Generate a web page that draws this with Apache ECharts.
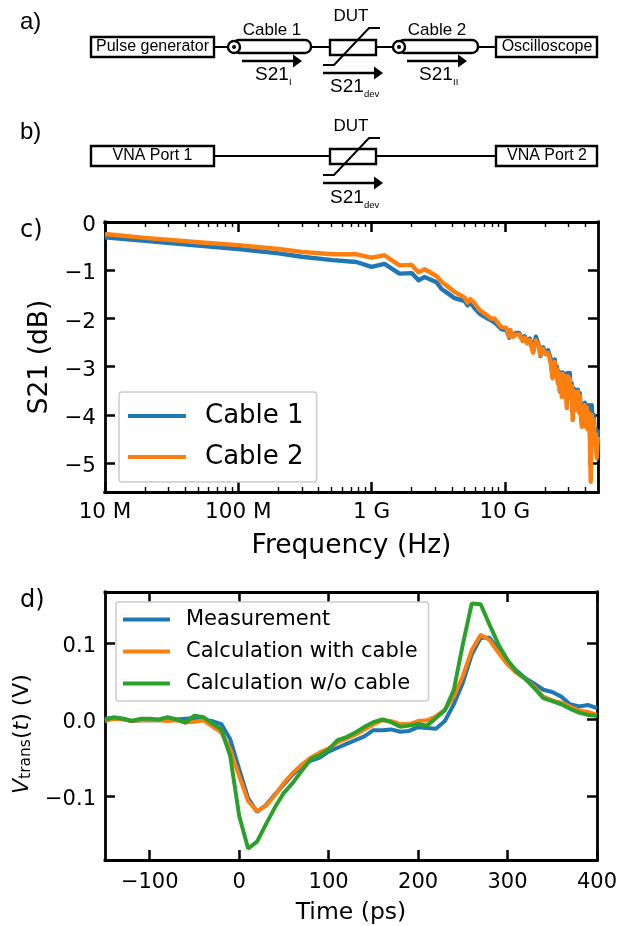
<!DOCTYPE html>
<html><head><meta charset="utf-8">
<style>html,body{margin:0;padding:0;background:#fff}#c{width:620px;height:926px}</style>
<script src="https://cdn.jsdelivr.net/npm/echarts@6/dist/echarts.min.js"></script>
</head><body><div id="c"></div>
<script>
// ---- panel c: S21 of the cables
const freqGHzCable1 = [0.01,0.02,0.05,0.1,0.2,0.3,0.51,0.77,1,1.25,1.62,2,2.25,2.5,3.07,3.35,3.7,4.2,5,5.25,5.5,5.9,6.45,7.3,7.9,8.35,9.4,
 10.2,10.5,10.8,11,11.5,12.2,12.8,13.6,14.1,14.7,15.4,16.3,17.1,18.1,18.5,19.4,20.2,21.1,22,22.8,
 23.7,24.1,24.6,25,25.4,25.9,26.3,26.8,27.2,27.7,28.2,28.7,29.2,29.7,30.2,30.7,31.2,31.8,32.3,32.9,33.5,34.1,34.6,35.3,35.9,36.5,37.1,37.8,38.4,39.1,39.8,40.5,41.2,41.9,42.6,43.4,44.1,44.9,45.7,46.5,47.3,48.1,48.9,49.8];
const s21Cable1 = [-0.32,-0.39,-0.49,-0.56,-0.65,-0.72,-0.79,-0.83,-0.93,-0.87,-1.07,-1.06,-1.21,-1.14,-1.25,-1.39,-1.47,-1.58,-1.64,-1.73,-1.66,-1.78,-1.9,-1.99,-2.04,-2.08,-2.22,
 -2.24,-2.30,-2.40,-2.27,-2.35,-2.30,-2.30,-2.45,-2.37,-2.50,-2.42,-2.68,-2.38,-2.58,-2.78,-2.60,-2.72,-2.66,-2.83,-3.18,
 -2.85,-3.15,-3.0,-3.3,-3.1,-3.52,-3.15,-3.45,-3.12,-3.48,-3.15,-3.5,-3.7,-3.13,-3.5,-3.13,-3.6,-3.35,-3.95,-3.45,-3.8,-3.5,-3.7,-3.48,-3.85,-3.55,-3.95,-4.15,-3.8,-4.1,-3.75,-4.15,-3.8,-4.2,-3.8,-4.25,-4.95,-3.8,-4.2,-4.0,-4.5,-4.3,-4.8,-4.3];
const freqGHzCable2 = [0.01,0.02,0.05,0.1,0.2,0.3,0.51,0.77,1,1.25,1.62,1.67,2,2.25,2.5,3.07,3.35,3.7,4.2,5,5.25,5.5,5.9,6.45,7.3,7.9,8.35,9.4,
 10.2,10.5,10.8,11,11.5,12.2,12.8,13.6,14.1,14.7,15.4,16.3,17.1,18.1,18.5,19.4,20.2,21.1,22,22.8,
 23.7,24.1,24.6,25,25.4,25.9,26.3,26.8,27.2,27.7,28.2,28.7,29.2,29.7,30.2,30.7,31.2,31.8,32.3,32.9,33.5,34.1,34.6,35.3,35.9,36.5,37.1,37.8,38.4,39.1,39.8,40.5,41.2,41.9,42.6,43.4,44.1,44.9,45.7,46.5,47.3,48.1,48.9,49.8];
const s21Cable2 = [-0.25,-0.33,-0.42,-0.48,-0.56,-0.62,-0.67,-0.67,-0.74,-0.69,-0.90,-0.91,-0.89,-1.04,-0.98,-1.12,-1.24,-1.33,-1.45,-1.57,-1.67,-1.60,-1.68,-1.82,-1.93,-2.0,-2.0,-2.18,
 -2.19,-2.27,-2.38,-2.24,-2.38,-2.33,-2.33,-2.47,-2.40,-2.52,-2.45,-2.71,-2.45,-2.59,-2.76,-2.63,-2.74,-2.72,-2.90,-3.24,
 -2.9,-3.2,-3.05,-3.35,-3.13,-3.5,-3.2,-3.63,-3.15,-3.5,-3.2,-3.55,-3.86,-3.2,-3.55,-3.25,-3.65,-3.4,-4.11,-3.5,-3.9,-3.55,-3.75,-3.52,-3.95,-3.6,-4.0,-4.25,-3.85,-4.2,-3.8,-4.25,-3.85,-4.3,-3.95,-4.4,-5.39,-4.0,-4.35,-4.1,-4.6,-4.4,-4.9,-4.45];
const freqTickLabels = {1e7:'10 M',1e8:'100 M',1e9:'1 G',1e10:'10 G'};
const freqMajorTicks = [1e7,1e8,1e9,1e10];
const freqMinorTicks = [2e7,3e7,4e7,5e7,6e7,7e7,8e7,9e7,2e8,3e8,4e8,5e8,6e8,7e8,8e8,9e8,2e9,3e9,4e9,5e9,6e9,7e9,8e9,9e9,2e10,3e10,4e10];
const s21Ticks = [-5,-4,-3,-2,-1,0];
// ---- panel d: transmitted voltage
const timePs = [-150,-140,-130,-120,-110,-100,-90,-80,-70,-60,-50,-40,-30,-20,-10,0,10,20,30,40,50,60,70,80,90,100,110,120,130,140,150,160,170,180,190,200,210,220,230,240,250,260,270,280,290,300,310,320,330,340,350,360,370,380,390,400];
const vMeasurement = [.001,.002,.001,-.002,-.001,-.001,-.001,0,0,.001,.002,-.001,-.002,-.006,-.026,-.065,-.103,-.121,-.112,-.098,-.085,-.072,-.061,-.054,-.05,-.042,-.037,-.032,-.027,-.022,-.014,-.014,-.013,-.016,-.015,-.01,-.011,-.012,-.002,.02,.048,.085,.107,.107,.091,.076,.064,.054,.047,.039,.036,.03,.02,.017,.019,.015];
const vCalcWithCable = [-.002,.001,0,-.002,-.001,-.001,-.001,-.002,-.001,-.004,-.003,-.001,-.009,-.017,-.039,-.074,-.107,-.12,-.113,-.099,-.083,-.07,-.059,-.05,-.043,-.038,-.03,-.025,-.02,-.013,-.0065,-.001,-.002,-.006,-.006,-.002,-.001,.004,.013,.03,.057,.091,.111,.104,.087,.072,.061,.053,.043,.03,.025,.022,.017,.012,.01,.006];
const vCalcNoCable = [0,.003,.001,-.002,.001,.001,0,.003,0,-.004,.005,.003,-.005,-.013,-.048,-.126,-.169,-.16,-.137,-.115,-.096,-.083,-.067,-.052,-.047,-.039,-.027,-.023,-.017,-.0096,-.0035,0,-.0035,-.0096,-.008,-.006,-.008,.002,.012,.039,.098,.152,.151,.124,.098,.078,.063,.053,.041,.028,.024,.02,.014,.009,.006,.005];
const timeTicks = [-100,0,100,200,300,400];
const voltTicks = [-0.1,0,0.1];
const BLUE='#1f77b4',ORANGE='#ff7f0e',GREEN='#2ca02c';
const SANS='DejaVu Sans', DIA='Liberation Sans';

const zip=(a,b)=>a.map((v,i)=>[v,b[i]]);
const line={lineStyle:{color:'#000',width:2.8,cap:'square'}};
function axisBase(extra){return Object.assign({axisLine:Object.assign({show:true,onZero:false},line),splitLine:{show:false},minorTick:{show:false},minorSplitLine:{show:false}},extra);}
function ticks(vals,len,w){return {show:true,inside:true,length:len,customValues:vals,lineStyle:{color:'#000',width:w}};}
const minus=s=>String(s).replace('-','\u2212');
function logX(grid,pos,vals,len,w,label){return axisBase({type:'log',logBase:10,gridIndex:grid,position:pos,min:1e7,max:5e10,axisTick:ticks(vals,len,w),
  axisLabel:label?{show:true,customValues:freqMajorTicks,formatter:v=>freqTickLabels[Math.round(v)]||'',fontFamily:SANS,fontSize:21.5,color:'#000',margin:9}:{show:false}});}
function valAxis(grid,pos,min,max,vals,label,fmt,size,margin,richPad){
  const lab={show:true,customValues:vals,formatter:fmt,fontFamily:SANS,fontSize:size,color:'#000',margin:margin||9};
  if(richPad){lab.formatter=v=>'{t|'+fmt(v)+'}';lab.rich={t:{fontFamily:SANS,fontSize:size,color:'#000',padding:richPad}};}
  return axisBase({type:'value',gridIndex:grid,position:pos,min,max,axisTick:ticks(vals,10,2.5),axisLabel:label?lab:{show:false}});}

// ---- schematic helpers
const g=[];
const LW=2.4;
function box(x,y,w,h,r){g.push({type:'rect',z:10,shape:{x,y,width:w,height:h,r:r||0},style:{stroke:'#000',lineWidth:LW,fill:'#fff'}});}
function seg(pts,w,z){g.push({type:'polyline',z:z||9,shape:{points:pts},style:{stroke:'#000',lineWidth:w||2,fill:null}});}
function txt(t,x,y,size,fam,align){g.push({type:'text',z:12,x,y,style:{text:t,fontFamily:fam||DIA,fontSize:size,fill:'#000',align:align||'center',verticalAlign:'middle'}});}
function arrow(x1,x2,y){seg([[x1,y],[x2-8,y]],2.6);g.push({type:'polygon',z:11,shape:{points:[[x2-9,y-6.5],[x2,y],[x2-9,y+6.5]]},style:{fill:'#000'}});}
function dut(y,top,bot){box(330,y-7,46,15);seg([[323,bot],[334,bot],[369,top],[380,top]],2,13);}
function cable(x1,x2,y){box(x1,y-7,x2-x1,13,6);g.push({type:'circle',z:11,shape:{cx:x1+1,cy:y,r:6},style:{stroke:'#000',lineWidth:LW,fill:'#fff'}});g.push({type:'circle',z:12,shape:{cx:x1+1,cy:y,r:2},style:{fill:'#000'}});}
function sub(main,s,x,y){txt(main,x,y,19,DIA,'left');txt(s,x+34,y+7,9.5,DIA,'left');}
// a)
txt('a)',20,22,24,DIA,'left');
seg([[214,47],[496,47]]);
box(91,37,123,20);txt('Pulse generator',152.5,47,16);
box(496,37,101,20);txt('Oscilloscope',547,47,16);
cable(233,311,47);cable(398,478,47);dut(47,28,65);
txt('Cable 1',272,30,17);txt('Cable 2',437,30,17);txt('DUT',351,16,17);
arrow(242,302,61);arrow(323,383,73);arrow(407,467,61);
sub('S21','I',255,75);sub('S21','dev',330,87);sub('S21','II',419,75);
// b)
txt('b)',20,132,24,DIA,'left');
seg([[214,156],[496,156]]);
box(91,146,123,20);txt('VNA Port 1',152.5,156,16);
box(496,146,101,20);txt('VNA Port 2',547,156,16);
dut(156,138,175);txt('DUT',351,126,17);
arrow(323,383,183);sub('S21','dev',330,198);
// panel labels
txt('c)',20,231,24,SANS,'left');
txt('d)',20,601,24,SANS,'left');

const legendBase={orient:'vertical',icon:'rect',itemHeight:4,backgroundColor:'#fff',borderColor:'#ccc',borderWidth:1.5,borderRadius:3};
const option={
 animation:false,
 textStyle:{fontFamily:SANS},
 graphic:{elements:g},
 grid:[{left:105,top:222,width:493,height:270},{left:105,top:592,width:493,height:269}],
 xAxis:[
  Object.assign(logX(0,'bottom',freqMajorTicks,10,2.5,true),{name:'Frequency (Hz)',nameLocation:'middle',nameGap:41,nameTextStyle:{fontFamily:SANS,fontSize:26.5,color:'#000'}}),
  logX(0,'top',freqMajorTicks,10,2.5,false),
  logX(0,'bottom',freqMinorTicks,5,1.4,false),
  logX(0,'top',freqMinorTicks,5,1.4,false),
  Object.assign(valAxis(1,'bottom',-150,400,timeTicks,true,minus,21,12),{name:'Time (ps)',nameLocation:'middle',nameGap:41,nameTextStyle:{fontFamily:SANS,fontSize:23.5,color:'#000'}}),
  valAxis(1,'top',-150,400,timeTicks,false)
 ],
 yAxis:[
  Object.assign(valAxis(0,'left',-5.6,0,s21Ticks,true,minus,21.5,9,[7,0,0,0]),{name:'S21 (dB)',nameLocation:'middle',nameGap:50,nameTextStyle:{fontFamily:SANS,fontStyle:'normal',fontSize:26.5,color:'#000'}}),
  valAxis(0,'right',-5.6,0,s21Ticks,false),
  Object.assign(valAxis(1,'left',-0.184,0.167,voltTicks,true,v=>minus(v.toFixed(1)),21,9,[7,0,0,0]),{name:'{i|V}{s|trans}{n|(}{i|t}{n|) (V)}',nameLocation:'middle',nameGap:65,
    nameTextStyle:{padding:[0,16,0,0],rich:{i:{fontFamily:SANS,fontStyle:'italic',fontSize:22,color:'#000'},n:{fontFamily:SANS,fontSize:22,color:'#000'},s:{fontFamily:SANS,fontSize:15.5,color:'#000',padding:[8,0,0,0]}}}}),
  valAxis(1,'right',-0.184,0.167,voltTicks,false)
 ],
 legend:[
  Object.assign({},legendBase,{data:['Cable 1','Cable 2'],left:119,top:392,padding:[11,13,12,9],itemWidth:58,itemGap:15,textStyle:{fontFamily:SANS,fontSize:26,color:'#000',lineHeight:24,padding:[0,0,0,14]}}),
  Object.assign({},legendBase,{data:['Measurement','Calculation with cable','Calculation w/o cable'],left:116,top:602,padding:[7,11,7,7],itemWidth:47,itemGap:11,textStyle:{fontFamily:SANS,fontSize:21,color:'#000',lineHeight:21,padding:[0,0,0,11]}})
 ],
 series:[
  {name:'Cable 1',type:'line',xAxisIndex:0,yAxisIndex:0,showSymbol:false,symbol:'none',data:zip(freqGHzCable1.map(f=>f*1e9),s21Cable1),lineStyle:{color:BLUE,width:4.4,join:'round'},itemStyle:{color:BLUE}},
  {name:'Cable 2',type:'line',xAxisIndex:0,yAxisIndex:0,showSymbol:false,symbol:'none',data:zip(freqGHzCable2.map(f=>f*1e9),s21Cable2),lineStyle:{color:ORANGE,width:4.4,join:'round'},itemStyle:{color:ORANGE}},
  {name:'Measurement',type:'line',xAxisIndex:4,yAxisIndex:2,showSymbol:false,symbol:'none',data:zip(timePs,vMeasurement),lineStyle:{color:BLUE,width:4},itemStyle:{color:BLUE}},
  {name:'Calculation with cable',type:'line',xAxisIndex:4,yAxisIndex:2,showSymbol:false,symbol:'none',data:zip(timePs,vCalcWithCable),lineStyle:{color:ORANGE,width:4},itemStyle:{color:ORANGE}},
  {name:'Calculation w/o cable',type:'line',xAxisIndex:4,yAxisIndex:2,showSymbol:false,symbol:'none',data:zip(timePs,vCalcNoCable),lineStyle:{color:GREEN,width:4},itemStyle:{color:GREEN}}
 ]
};
echarts.init(document.getElementById('c'),null,{renderer:'canvas'}).setOption(option);
</script></body></html>
